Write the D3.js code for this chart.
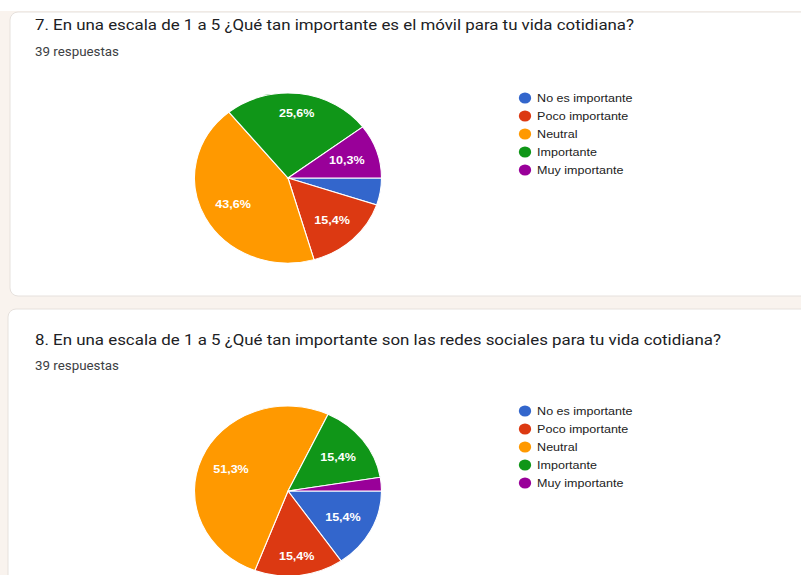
<!DOCTYPE html>
<html>
<head>
<meta charset="utf-8">
<script src="https://cdn.jsdelivr.net/npm/d3@7"></script>
<style>
  body { margin: 0; background: #ffffff; }
  svg { display: block; }
</style>
</head>
<body>
<svg id="chart" width="801" height="575"></svg>
<script>
// Data
const categories = ["No es importante", "Poco importante", "Neutral", "Importante", "Muy importante"];
const sliceColors = ["#3366cc", "#dc3912", "#ff9900", "#109618", "#990099"];
const movilCounts = [2, 6, 17, 10, 4];
const redesCounts = [6, 6, 20, 6, 1];
const titles = [
  "7. En una escala de 1 a 5 ¿Qué tan importante es el móvil para tu vida cotidiana?",
  "8. En una escala de 1 a 5 ¿Qué tan importante son las redes sociales para tu vida cotidiana?"
];
const responseLabel = "39 respuestas";

const svg = d3.select("#chart");
const width = 801, height = 575;

// Page background and cards
svg.append("rect").attr("width", width).attr("height", height).attr("fill", "#f9f3ee");
svg.append("rect").attr("width", width).attr("height", 11).attr("fill", "#ffffff");

const cards = [
  {x: 10, y: 12, h: 284, titleY: 30, subY: 56, endX: 634, cy: 178, legendY: 98, data: movilCounts},
  {x: 8, y: 309, h: 300, titleY: 345, subY: 370, endX: 721, cy: 491, legendY: 411, data: redesCounts}
];

const R = 85;        // vertical radius
const sx = 1.1;      // screenshot is stretched horizontally
const cx = 288;
const textX = 35;

const pie = d3.pie().sort(null).value(d => d)
  .startAngle(Math.PI / 2).endAngle(Math.PI / 2 + 2 * Math.PI);
const arc = d3.arc().innerRadius(0).outerRadius(R);

cards.forEach((c, i) => {
  svg.append("rect")
    .attr("x", c.x).attr("y", c.y)
    .attr("width", 820).attr("height", c.h)
    .attr("rx", 8)
    .attr("fill", "#ffffff")
    .attr("stroke", "#e6e1dd");

  svg.append("text")
    .attr("x", textX).attr("y", c.titleY)
    .attr("textLength", c.endX - textX)
    .attr("lengthAdjust", "spacingAndGlyphs")
    .style("font-family", "Roboto, sans-serif")
    .style("font-size", "15.5px")
    .style("fill", "#202124")
    .text(titles[i]);

  svg.append("text")
    .attr("x", textX).attr("y", c.subY)
    .attr("textLength", 84)
    .attr("lengthAdjust", "spacingAndGlyphs")
    .style("font-family", "Roboto, sans-serif")
    .style("font-size", "12px")
    .style("fill", "#3c4043")
    .text(responseLabel);

  // Pie
  const total = d3.sum(c.data);
  const g = svg.append("g")
    .attr("transform", `translate(${cx}, ${c.cy}) scale(${sx}, 1)`);

  const arcs = pie(c.data);
  g.selectAll("path.slice")
    .data(arcs)
    .join("path")
    .attr("class", "slice")
    .attr("d", arc)
    .attr("fill", (d, j) => sliceColors[j])
    .attr("stroke", "#ffffff")
    .attr("stroke-width", 1);

  const labels = g.selectAll("text.pct")
    .data(arcs.filter(d => d.value / total > 0.07))
    .join("text")
    .attr("class", "pct")
    .attr("text-anchor", "middle")
    .attr("dominant-baseline", "central")
    .style("font-family", "Arial, 'Liberation Sans', sans-serif")
    .style("font-size", "11.4px")
    .style("font-weight", "bold")
    .style("fill", "#ffffff")
    .text(d => (d.value / total * 100).toFixed(1).replace(".", ",") + "%");

  // push each label out until its box touches a ring inside the pie
  labels.each(function(d) {
    const bb = this.getBBox();
    const a = (d.startAngle + d.endAngle) / 2;
    const s = Math.sin(a), co = -Math.cos(a);
    const dist = 0.87 * R - (Math.abs(s) * bb.width / 2 + Math.abs(co) * bb.height / 2);
    d3.select(this).attr("x", s * dist).attr("y", co * dist);
  });

  // Legend
  const lg = svg.append("g")
    .attr("transform", `translate(525, ${c.legendY}) scale(${sx}, 1)`);
  const items = lg.selectAll("g")
    .data(categories)
    .join("g")
    .attr("transform", (d, j) => `translate(0, ${j * 18})`);
  items.append("circle")
    .attr("r", 5.6)
    .attr("fill", (d, j) => sliceColors[j]);
  items.append("text")
    .attr("x", 11)
    .attr("dy", "0.35em")
    .style("font-family", "Arial, 'Liberation Sans', sans-serif")
    .style("font-size", "11.4px")
    .style("fill", "#222222")
    .text(d => d);
});
</script>
</body>
</html>
